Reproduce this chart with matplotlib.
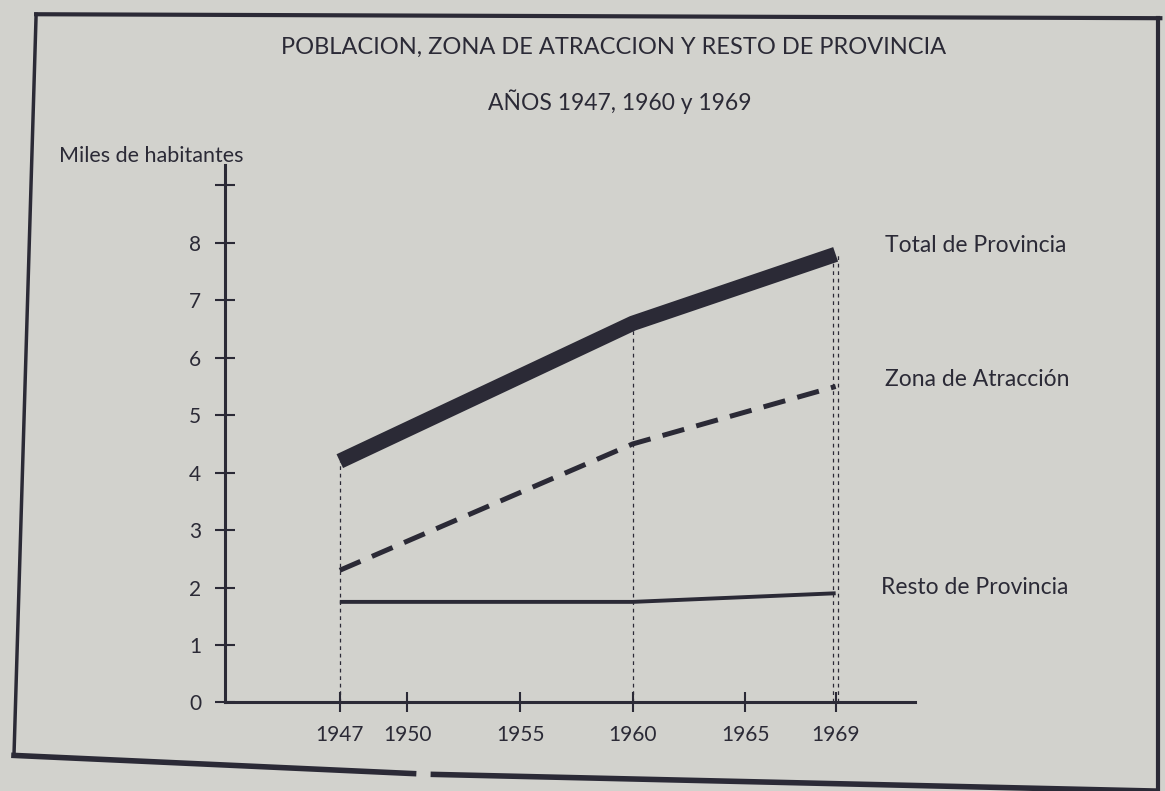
import matplotlib.pyplot as plt
from matplotlib.lines import Line2D

# datos (miles de habitantes)
years = [1947, 1960, 1969]
total_provincia = [4.2, 6.6, 7.8]
zona_atraccion = [2.3, 4.5, 5.5]
resto_provincia = [1.75, 1.75, 1.9]

x_ticks = [1947, 1950, 1955, 1960, 1965, 1969]
y_ticks = [0, 1, 2, 3, 4, 5, 6, 7, 8, 9]
y_labels = ['0', '1', '2', '3', '4', '5', '6', '7', '8', '']

series_labels = ['Total de Provincia', 'Zona de Atracción', 'Resto de Provincia']

ink = '#2b2a36'
paper = '#d2d2cd'
font = ['Lato', 'DejaVu Sans']

plt.rcParams['font.family'] = font

fig = plt.figure(figsize=(11.65, 7.91), dpi=100, facecolor=paper)
ax = fig.add_axes([0.193, 0.112, 0.592, 0.679])
ax.set_facecolor(paper)

ax.set_xlim(1941.9, 1972.5)
ax.set_ylim(0, 9.35)

# lineas de referencia verticales
ax.vlines([years[0], years[1]], 0, [total_provincia[0], total_provincia[1]],
          colors=ink, linestyles=(0, (3, 3)), linewidth=0.9)
ax.vlines([years[2] - 0.12, years[2] + 0.12], 0, total_provincia[2],
          colors=ink, linestyles=(0, (3, 3)), linewidth=0.9)

ax.plot(years, total_provincia, color=ink, linewidth=11, solid_capstyle='butt')
ax.plot(years, zona_atraccion, color=ink, linewidth=3.6, dashes=(4.5, 2.5))
ax.plot(years, resto_provincia, color=ink, linewidth=2.8, solid_capstyle='butt')

# etiquetas a la derecha
label_y = [7.95, 5.62, 2.0]
label_x = [1971.2, 1971.2, 1971.0]
for lx, ly, txt in zip(label_x, label_y, series_labels):
    ax.text(lx, ly, txt, fontsize=16.5, color=ink, ha='left', va='center',
            clip_on=False)

for side in ['top', 'right']:
    ax.spines[side].set_visible(False)
for side in ['left', 'bottom']:
    ax.spines[side].set_color(ink)
    ax.spines[side].set_linewidth(2.2)

ax.set_xticks(x_ticks)
ax.set_xticklabels([str(v) for v in x_ticks])
ax.set_yticks(y_ticks)
ax.set_yticklabels(y_labels)
ax.tick_params(axis='both', direction='inout', length=14, width=1.5,
               color=ink, labelcolor=ink, labelsize=15)
ax.tick_params(axis='y', pad=10)
ax.tick_params(axis='x', pad=9)

fig.text(0.051, 0.803, 'Miles de habitantes', fontsize=15.5, color=ink,
         ha='left', va='center')

fig.text(0.527, 0.940, 'POBLACION, ZONA DE ATRACCION Y RESTO DE PROVINCIA',
         fontsize=17, color=ink, ha='center', va='center')
fig.text(0.532, 0.872, 'AÑOS 1947, 1960 y 1969', fontsize=16.5, color=ink,
         ha='center', va='center')

# marco de la pagina
fig.add_artist(Line2D([0.031, 0.996], [0.982, 0.977], color=ink, linewidth=3,
                      transform=fig.transFigure))
fig.add_artist(Line2D([0.031, 0.012], [0.982, 0.045], color=ink, linewidth=2.5,
                      transform=fig.transFigure))
fig.add_artist(Line2D([0.994, 0.994], [0.977, 0.0], color=ink, linewidth=3,
                      transform=fig.transFigure))
fig.add_artist(Line2D([0.012, 0.355], [0.045, 0.022], color=ink, linewidth=4,
                      transform=fig.transFigure))
fig.add_artist(Line2D([0.372, 0.99], [0.021, 0.0], color=ink, linewidth=4,
                      transform=fig.transFigure))

fig.savefig('out.png', dpi=100, facecolor=paper)
